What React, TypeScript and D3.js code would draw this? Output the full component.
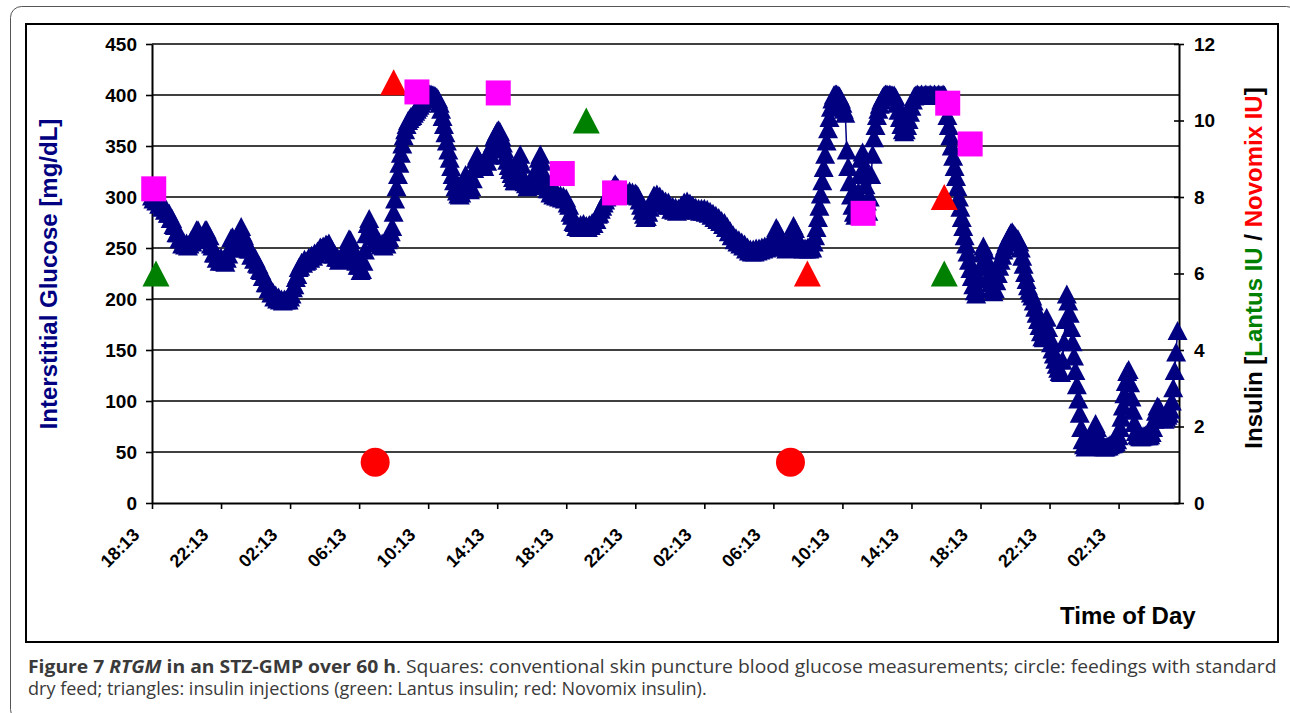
import { useRef, useEffect } from 'react';
import * as d3 from 'd3';

// CGM glucose readings (mg/dL), one every 5 minutes from 18:13 on day 1.
// One row per hour.
const glucose = [
  301, 298, 300, 296, 297, 293, 294, 290, 291, 287, 288, 284,
  284, 279, 279, 273, 272, 265, 265, 259, 259, 254, 256, 253,
  255, 252, 254, 257, 256, 261, 262, 268, 268, 264, 262, 258,
  262, 268, 268, 263, 262, 254, 252, 245, 245, 240, 241, 237,
  241, 237, 239, 236, 240, 244, 250, 260, 261, 253, 250, 254,
  258, 267, 271, 265, 262, 255, 255, 249, 249, 243, 244, 239,
  240, 235, 234, 229, 228, 222, 222, 216, 216, 210, 211, 206,
  207, 202, 204, 200, 202, 199, 200, 198, 200, 199, 200, 199,
  202, 205, 211, 214, 221, 224, 231, 232, 236, 235, 239, 237,
  238, 241, 240, 243, 242, 245, 244, 247, 247, 251, 250, 252,
  251, 254, 253, 255, 250, 249, 244, 244, 241, 241, 238, 240,
  241, 245, 246, 251, 253, 259, 258, 252, 247, 239, 237, 233,
  233, 228, 229, 237, 248, 264, 274, 279, 272, 264, 262, 257,
  258, 255, 256, 253, 255, 252, 255, 254, 258, 260, 266, 271,
  285, 298, 310, 322, 333, 343, 352, 360, 366, 371, 375, 377,
  379, 380, 382, 384, 386, 388, 390, 392, 394, 396, 398, 400,
  400, 401, 401, 400, 400, 399, 398, 396, 392, 386, 379, 371,
  363, 355, 346, 338, 330, 322, 316, 310, 306, 303, 302, 304,
  310, 318, 322, 315, 309, 307, 310, 318, 328, 337, 341, 338,
  335, 331, 333, 330, 336, 335, 341, 343, 350, 353, 359, 362,
  365, 366, 364, 359, 353, 347, 341, 336, 331, 327, 323, 319,
  316, 316, 325, 338, 342, 332, 320, 315, 313, 310, 313, 311,
  315, 313, 318, 322, 330, 338, 342, 335, 324, 316, 312, 308,
  308, 304, 306, 302, 305, 301, 303, 300, 302, 299, 301, 298,
  299, 294, 292, 285, 282, 276, 275, 271, 272, 270, 273, 271,
  274, 271, 272, 270, 273, 272, 275, 274, 278, 278, 283, 284,
  288, 291, 294, 297, 300, 302, 304, 306, 308, 311, 313, 311,
  309, 305, 307, 304, 306, 303, 305, 302, 306, 303, 305, 302,
  304, 303, 301, 297, 292, 287, 283, 280, 281, 285, 290, 294,
  297, 302, 300, 303, 299, 301, 296, 298, 294, 296, 292, 295,
  292, 288, 291, 287, 290, 286, 289, 287, 292, 291, 295, 293,
  296, 292, 294, 290, 292, 288, 290, 287, 289, 286, 289, 286,
  289, 285, 288, 284, 286, 282, 284, 280, 282, 278, 280, 276,
  277, 273, 275, 270, 271, 266, 267, 262, 263, 258, 260, 256,
  258, 254, 256, 252, 254, 249, 251, 247, 249, 246, 249, 246,
  250, 247, 250, 248, 251, 249, 252, 250, 253, 251, 254, 252,
  258, 264, 270, 268, 262, 257, 254, 251, 252, 249, 251, 250,
  257, 265, 272, 269, 262, 257, 254, 250, 251, 249, 250, 249,
  251, 249, 252, 250, 256, 262, 270, 280, 291, 303, 316, 329,
  342, 355, 367, 378, 388, 396, 400, 401, 401, 400, 399, 396,
  392, 386, 382, 346, 330, 315, 302, 292, 285, 282, 290, 305,
  322, 338, 344, 330, 312, 296, 286, 300, 322, 342, 358, 370,
  380, 386, 391, 395, 398, 400, 401, 401, 400, 401, 400, 400,
  400, 398, 392, 385, 378, 371, 366, 364, 366, 370, 376, 383,
  389, 395, 399, 400, 401, 400, 400, 401, 400, 400, 401, 400,
  400, 401, 400, 400, 401, 400, 400, 401, 400, 400, 401, 400,
  392, 380, 370, 360, 350, 340, 330, 320, 310, 300, 290, 280,
  271, 262, 254, 246, 238, 230, 222, 214, 208, 205, 210, 220,
  232, 245, 252, 248, 240, 232, 224, 216, 210, 207, 210, 218,
  225, 232, 238, 243, 248, 252, 256, 259, 262, 265, 266, 264,
  262, 260, 259, 256, 250, 242, 234, 226, 219, 213, 209, 206,
  203, 198, 192, 186, 180, 174, 168, 163, 162, 175, 182, 172,
  163, 157, 151, 146, 141, 136, 132, 129, 128, 140, 158, 180,
  205, 198, 186, 172, 158, 144, 130, 116, 102, 88, 74, 62,
  57, 55, 56, 57, 60, 63, 68, 74, 78, 74, 66, 60,
  57, 56, 55, 55, 56, 56, 57, 58, 58, 59, 60, 62,
  66, 74, 84, 95, 107, 119, 129, 131, 118, 104, 91, 79,
  70, 67, 66, 65, 65, 66, 66, 67, 66, 66, 67, 69,
  74, 82, 90, 95, 94, 90, 86, 83, 82, 84, 86, 88,
  92, 100, 113, 130, 148, 169,
];
const stepHours = 5 / 60;

// skin puncture blood glucose (hours after 18:13, mg/dL)
const fingerHours = [0.1, 15.35, 20.06, 23.77, 26.8, 41.2, 46.1, 47.4];
const fingerValues = [308, 403, 402, 323, 304, 284, 392, 352];

// feedings, drawn on the glucose axis
const feedHours = [12.93, 36.99];
const feedValues = [40, 40];

// insulin injections (IU, right axis)
const lantusHours = [0.23, 25.16, 45.9];
const lantusDoses = [6, 10, 6];
const novomixHours = [14.0, 37.97, 45.9];
const novomixDoses = [11, 6, 8];

const timeLabels = [
  '18:13', '22:13', '02:13', '06:13', '10:13', '14:13', '18:13', '22:13',
  '02:13', '06:13', '10:13', '14:13', '18:13', '22:13', '02:13',
];

const plot = { left: 152, right: 1179, top: 44, bottom: 503 };
const chartFont = '"Liberation Sans", Arial, Helvetica, sans-serif';
const captionFont = '"Open Sans", "Noto Sans", sans-serif';

const triangle = (w: number, h: number) => `M0,${-h / 2}L${w / 2},${h / 2}L${-w / 2},${h / 2}Z`;

export default function App() {
  const svgRef = useRef<SVGSVGElement | null>(null);

  useEffect(() => {
    const svg = d3.select(svgRef.current);
    svg.selectAll('*').remove();

    const x = d3.scaleLinear().domain([0, 59.5]).range([plot.left, plot.right]);
    const y = d3.scaleLinear().domain([0, 450]).range([plot.bottom, plot.top]);
    const yIns = d3.scaleLinear().domain([0, 12]).range([plot.bottom, plot.top]);

    // outer rounded box and chart frame
    svg.append('rect')
      .attr('x', 10.5).attr('y', 6.5).attr('width', 1287).attr('height', 714)
      .attr('rx', 11).attr('fill', 'white').attr('stroke', '#555').attr('stroke-width', 1);
    svg.append('rect')
      .attr('x', 26).attr('y', 24).attr('width', 1252).attr('height', 618)
      .attr('fill', 'white').attr('stroke', '#000').attr('stroke-width', 2);

    // gridlines
    svg.append('g')
      .selectAll('line')
      .data(d3.range(50, 451, 50))
      .join('line')
      .attr('x1', plot.left).attr('x2', plot.right)
      .attr('y1', (d) => y(d)).attr('y2', (d) => y(d))
      .attr('stroke', '#000').attr('stroke-width', 1.3);

    const styleAxis = (g: any, size: number) => {
      g.select('.domain').attr('stroke', '#000').attr('stroke-width', 2);
      g.selectAll('.tick line').attr('stroke', '#000').attr('stroke-width', 1.6);
      g.selectAll('.tick text')
        .attr('fill', '#000')
        .style('font-family', chartFont)
        .style('font-weight', 'bold')
        .style('font-size', `${size}px`);
    };

    // left axis
    const gy = svg.append('g')
      .attr('transform', `translate(${plot.left},0)`)
      .call(d3.axisLeft(y).tickValues(d3.range(0, 451, 50)).tickSize(6).tickSizeOuter(0).tickPadding(9));
    styleAxis(gy, 19);

    // right axis, ticks cross the line
    const gr = svg.append('g')
      .attr('transform', `translate(${plot.right},0)`)
      .call(d3.axisRight(yIns).tickValues(d3.range(0, 13, 2)).tickSize(5).tickSizeOuter(0).tickPadding(10));
    gr.selectAll('.tick').append('line').attr('x2', -5);
    styleAxis(gr, 19);

    // bottom axis with rotated time labels
    const gx = svg.append('g')
      .attr('transform', `translate(0,${plot.bottom})`)
      .call(
        d3.axisBottom(x)
          .tickValues(d3.range(0, 57, 4))
          .tickFormat((_d: any, i: number) => timeLabels[i])
          .tickSize(6)
          .tickSizeOuter(0),
      );
    styleAxis(gx, 18);
    gx.selectAll('.tick text')
      .attr('text-anchor', 'end')
      .attr('x', -12)
      .attr('y', 33)
      .attr('dy', 0)
      .attr('transform', 'rotate(-45,-12,33)');

    // glucose trace
    const pts: [number, number][] = glucose.map((g, i) => [x(i * stepHours), y(g)]);
    svg.append('path')
      .attr('d', d3.line()(pts))
      .attr('fill', 'none')
      .attr('stroke', '#000080')
      .attr('stroke-width', 1.5);
    svg.append('g')
      .selectAll('path')
      .data(pts)
      .join('path')
      .attr('d', triangle(20, 19))
      .attr('transform', (d) => `translate(${d[0]},${d[1]})`)
      .attr('fill', '#000080');

    // insulin injections
    svg.append('g')
      .selectAll('path')
      .data(lantusHours)
      .join('path')
      .attr('d', triangle(27, 26))
      .attr('transform', (d, i) => `translate(${x(d)},${yIns(lantusDoses[i])})`)
      .attr('fill', '#008000');
    svg.append('g')
      .selectAll('path')
      .data(novomixHours)
      .join('path')
      .attr('d', triangle(27, 26))
      .attr('transform', (d, i) => `translate(${x(d)},${yIns(novomixDoses[i])})`)
      .attr('fill', '#FF0000');

    // feedings
    svg.append('g')
      .selectAll('circle')
      .data(feedHours)
      .join('circle')
      .attr('cx', (d) => x(d))
      .attr('cy', (d, i) => y(feedValues[i]))
      .attr('r', 14.5)
      .attr('fill', '#FF0000');

    // blood glucose measurements
    svg.append('g')
      .selectAll('rect')
      .data(fingerHours)
      .join('rect')
      .attr('x', (d) => x(d) - 12.5)
      .attr('y', (d, i) => y(fingerValues[i]) - 12.5)
      .attr('width', 25)
      .attr('height', 25)
      .attr('fill', '#FF00FF');

    // axis titles
    svg.append('text')
      .attr('transform', `translate(57,274) rotate(-90)`)
      .attr('text-anchor', 'middle')
      .style('font-family', chartFont)
      .style('font-weight', 'bold')
      .style('font-size', '24px')
      .attr('fill', '#000080')
      .text('Interstitial Glucose [mg/dL]');

    const rt = svg.append('text')
      .attr('transform', `translate(1262,268) rotate(-90)`)
      .attr('text-anchor', 'middle')
      .style('font-family', chartFont)
      .style('font-weight', 'bold')
      .style('font-size', '24px')
      .style('white-space', 'pre');
    rt.append('tspan').attr('fill', '#000').text('Insulin [');
    rt.append('tspan').attr('fill', '#008000').text('Lantus IU');
    rt.append('tspan').attr('fill', '#000').text(' / ');
    rt.append('tspan').attr('fill', '#FF0000').text('Novomix IU');
    rt.append('tspan').attr('fill', '#000').text(']');

    svg.append('text')
      .attr('x', 1060)
      .attr('y', 624)
      .style('font-family', chartFont)
      .style('font-weight', 'bold')
      .style('font-size', '24px')
      .attr('fill', '#000')
      .text('Time of Day');

    // caption, stretched to the widths of the original lines
    const cap1 = svg.append('text')
      .style('font-family', captionFont)
      .style('font-size', '18px')
      .style('white-space', 'pre')
      .attr('fill', '#3a3a3a');
    cap1.append('tspan').style('font-weight', 'bold').text('Figure 7 ');
    cap1.append('tspan').style('font-weight', 'bold').style('font-style', 'italic').text('RTGM');
    cap1.append('tspan').style('font-weight', 'bold').text(' in an STZ-GMP over 60 h');
    cap1.append('tspan').text('. Squares: conventional skin puncture blood glucose measurements; circle: feedings with standard');

    const cap2 = svg.append('text')
      .style('font-family', captionFont)
      .style('font-size', '18px')
      .style('white-space', 'pre')
      .attr('fill', '#3a3a3a')
      .text('dry feed; triangles: insulin injections (green: Lantus insulin; red: Novomix insulin).');

    const fit = (t: any, width: number, baseline: number) => {
      const w = (t.node() as SVGTextElement).getComputedTextLength();
      t.attr('transform', `translate(28,${baseline}) scale(${width / w},1)`);
    };
    fit(cap1, 1249, 673);
    fit(cap2, 679, 695);
  }, []);

  return (
    <svg
      ref={svgRef}
      width={1290}
      height={713}
      style={{ position: 'absolute', left: 0, top: 0, background: 'white' }}
    />
  );
}
